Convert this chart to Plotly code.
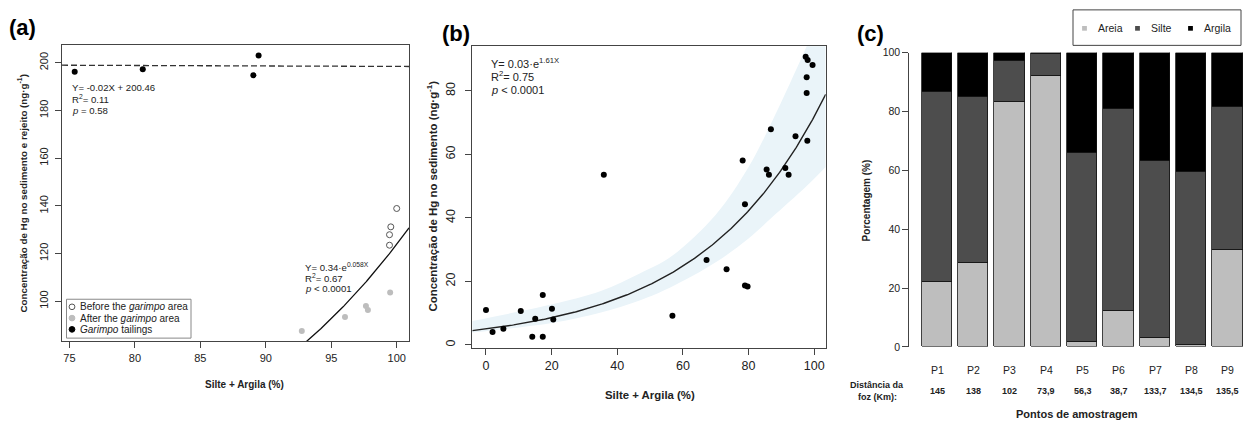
import numpy as np
import plotly.graph_objects as go

# ---------------- DATA ----------------
# Panel (a)
a_before_x = [99.45, 99.45, 99.55, 100.0]
a_before_y = [123.5, 127.9, 131.2, 138.9]
a_after_x = [92.75, 96.05, 97.65, 97.8, 99.5]
a_after_y = [87.5, 93.4, 98.0, 96.3, 103.7]
a_tail_x = [75.4, 80.6, 89.05, 89.45]
a_tail_y = [196.2, 197.3, 194.8, 203.0]
a_lin_slope, a_lin_icpt = -0.02, 200.46
a_exp_a, a_exp_b = 0.375, 0.058
a_xticks = [75, 80, 85, 90, 95, 100]
a_yticks = [100, 120, 140, 160, 180, 200]

# Panel (b)
b_x = [0, 2.0, 5.3, 10.6, 14.1, 15.0, 17.3, 17.3, 20.1, 20.5, 35.9, 56.8, 67.2, 73.3, 78.2,
       78.9, 78.9, 79.7, 85.5, 86.2, 86.8, 91.2, 92.2, 94.3, 97.4, 97.7, 97.7, 97.9, 98.0, 99.5]
b_y = [11.0, 4.1, 5.1, 10.7, 2.6, 8.2, 15.7, 2.6, 11.4, 8.0, 53.6, 9.2, 26.7, 23.8, 58.1,
       44.3, 18.7, 18.4, 55.2, 53.6, 67.9, 55.7, 53.6, 65.7, 90.7, 84.3, 79.3, 64.3, 89.7, 88.1]
b_exp_a, b_exp_b = 5.03, 0.0266
band_x = [-4.2, 10, 20.5, 35, 47, 56, 70, 80, 87, 97.7, 103.5]
band_upper = [7.5, 10.5, 12.9, 17.0, 22.6, 27.5, 41, 56, 70, 94, 108]
band_lower = [3.9, 5.5, 6.95, 10.2, 14.1, 18.0, 26, 33.5, 40, 50, 56]
b_xticks = [0, 20, 40, 60, 80, 100]
b_yticks = [0, 20, 40, 60, 80]

# Panel (c)
c_points = ["P1", "P2", "P3", "P4", "P5", "P6", "P7", "P8", "P9"]
c_areia = [22.3, 28.7, 83.2, 92.1, 1.9, 12.2, 3.1, 0.8, 32.9]
c_silte = [64.4, 56.3, 14.2, 7.7, 64.1, 68.7, 60.3, 58.7, 48.9]
c_argila = [13.3, 15.0, 2.6, 0.2, 34.0, 19.1, 36.6, 40.5, 18.2]
c_dist = ["145", "138", "102", "73,9", "56,3", "38,7", "133,7", "134,5", "135,5"]
c_yticks = [0, 20, 40, 60, 80, 100]

# ---------------- HELPERS ----------------
W, H = 1244, 428
FONT = "Liberation Sans, Arial, sans-serif"
INK = "#222222"
LINE = "#444444"


def px(x):
    return x / W


def py(y):
    return (H - y) / H


fig = go.Figure()

# ---------------- PANEL (a) ----------------
xa = np.linspace(74.43, 100.94, 300)
fig.add_trace(go.Scatter(x=xa, y=a_lin_slope * xa + a_lin_icpt, mode="lines",
                         line=dict(color="#333333", width=1.3, dash="6px,3px"),
                         xaxis="x", yaxis="y", showlegend=False))
fig.add_trace(go.Scatter(x=xa, y=a_exp_a * np.exp(a_exp_b * xa), mode="lines",
                         line=dict(color="#111111", width=1.3),
                         xaxis="x", yaxis="y", showlegend=False))
fig.add_trace(go.Scatter(x=a_before_x, y=a_before_y, mode="markers",
                         marker=dict(size=6, color="white", line=dict(color="#555555", width=1)),
                         xaxis="x", yaxis="y", showlegend=False))
fig.add_trace(go.Scatter(x=a_after_x, y=a_after_y, mode="markers",
                         marker=dict(size=6, color="#bdbdbd", line=dict(width=0)),
                         xaxis="x", yaxis="y", showlegend=False))
fig.add_trace(go.Scatter(x=a_tail_x, y=a_tail_y, mode="markers",
                         marker=dict(size=6, color="black", line=dict(width=0)),
                         xaxis="x", yaxis="y", showlegend=False))

# ---------------- PANEL (b) ----------------
fig.add_trace(go.Scatter(x=band_x, y=band_lower, mode="lines", line=dict(width=0, shape="spline"),
                         xaxis="x2", yaxis="y2", showlegend=False))
fig.add_trace(go.Scatter(x=band_x, y=band_upper, mode="lines", line=dict(width=0, shape="spline"),
                         fill="tonexty", fillcolor="#eaf4f9",
                         xaxis="x2", yaxis="y2", showlegend=False))
xb = np.linspace(-4.17, 103.5, 300)
fig.add_trace(go.Scatter(x=xb, y=b_exp_a * np.exp(b_exp_b * xb), mode="lines",
                         line=dict(color="#222222", width=1.4),
                         xaxis="x2", yaxis="y2", showlegend=False))
fig.add_trace(go.Scatter(x=b_x, y=b_y, mode="markers",
                         marker=dict(size=6, color="black", line=dict(width=0)),
                         xaxis="x2", yaxis="y2", showlegend=False))

# ---------------- PANEL (c) ----------------
idx = list(range(len(c_points)))
for name, vals, col in [("Areia", c_areia, "#bebebe"),
                        ("Silte", c_silte, "#4d4d4d"),
                        ("Argila", c_argila, "#000000")]:
    fig.add_trace(go.Bar(x=idx, y=vals, name=name, width=0.833,
                         marker=dict(color=col, line=dict(color="#111111", width=0.8)),
                         xaxis="x3", yaxis="y3", showlegend=False))

axis_common = dict(showgrid=False, zeroline=False, ticks="outside", ticklen=6,
                   tickcolor=LINE, linecolor=LINE, showline=True, linewidth=1)

fig.update_layout(
    width=W, height=H, margin=dict(l=0, r=0, t=0, b=0),
    plot_bgcolor="white", paper_bgcolor="white",
    font=dict(family=FONT, color=INK),
    barmode="stack", bargap=0,
    xaxis=dict(domain=[px(62), px(409)], range=[74.43, 100.94], tickvals=a_xticks,
               mirror=True, anchor="y", tickfont=dict(family=FONT, color=INK, size=11),
               **axis_common),
    yaxis=dict(domain=[py(345), py(40)], range=[83.2, 207.5], tickvals=a_yticks,
               mirror=True, anchor="x", tickangle=-90, ticklabelstandoff=3,
               tickfont=dict(family=FONT, color=INK, size=11), **axis_common),
    xaxis2=dict(domain=[px(472.3), px(825.7)], range=[-4.17, 103.5], tickvals=b_xticks,
                mirror=True, anchor="y2", tickfont=dict(family=FONT, color=INK, size=12.5),
                **axis_common),
    yaxis2=dict(domain=[py(351.7), py(41.3)], range=[-0.92, 94.07], tickvals=b_yticks,
                mirror=True, anchor="x2", tickangle=-90, ticklabelstandoff=5,
                tickfont=dict(family=FONT, color=INK, size=12.5), **axis_common),
    xaxis3=dict(domain=[px(909.3), px(1243.5)], range=[-0.767, 8.43], showgrid=False,
                zeroline=False, showline=False, showticklabels=False, ticks="", anchor="y3"),
    yaxis3=dict(domain=[py(350.7), py(48)], range=[0, 100], tickvals=c_yticks, anchor="x3",
                tickangle=0, tickfont=dict(family=FONT, color=INK, size=10.5), **axis_common),
)

ann = []
shapes = []


def text(x, y, s, size, bold=False, xanchor="left", angle=0, color=INK):
    if bold:
        s = "<b>" + s + "</b>"
    ann.append(dict(x=px(x), y=py(y), xref="paper", yref="paper", text=s, showarrow=False,
                    xanchor=xanchor, yanchor="middle", textangle=angle,
                    font=dict(family=FONT, size=size, color=color)))


# Panel labels
text(7, 22, "(a)", 22, bold=True, color="black")
text(440, 28, "(b)", 22, bold=True, color="black")
text(855, 28, "(c)", 22, bold=True, color="black")

# Panel (a) texts
text(70, 84, "Y= -0.02X + 200.46", 9.6)
text(70, 96, "R<sup>2</sup>= 0.11", 9.6)
text(70, 108, "<i>p</i> = 0.58", 9.6)
text(302.7, 268.3, "Y= 0.34·e<sup>0.058X</sup>", 9.6)
text(302.7, 279.7, "R<sup>2</sup>= 0.67", 9.6)
text(302.7, 291, "<i>p</i> &lt; 0.0001", 9.6)
text(244, 389, "Silte + Argila (%)", 10, bold=True, xanchor="center")
text(22, 193, "Concentração de Hg no sedimento e rejeito (ng·g<sup>-1</sup>)", 9.8, bold=True,
     xanchor="center", angle=-90)

# Legend (a)
shapes.append(dict(type="rect", xref="paper", yref="paper", x0=px(66.5), x1=px(191),
                   y0=py(341.7), y1=py(301.7), line=dict(color="#888888", width=1),
                   fillcolor="white", layer="above"))
leg_a = [("Before the <i>garimpo</i> area", "white", "#555555"),
         ("After the <i>garimpo</i> area", "#bdbdbd", "#bdbdbd"),
         ("<i>Garimpo</i> tailings", "black", "black")]
for i, (lab, fc, lc) in enumerate(leg_a):
    yy = 309.5 + i * 11.6
    r = 2.9
    shapes.append(dict(type="circle", xref="paper", yref="paper", x0=px(72 - r), x1=px(72 + r),
                       y0=py(yy + r), y1=py(yy - r), fillcolor=fc, line=dict(color=lc, width=1),
                       layer="above"))
    text(78, yy, lab, 10)

# Panel (b) texts
text(489, 58.3, "Y= 0.03·e<sup>1.61X</sup>", 11)
text(489, 72, "R<sup>2</sup>= 0.75", 11)
text(489, 86.7, "<i>p</i> &lt; 0.0001", 11)
text(650, 400, "Silte + Argila (%)", 11.4, bold=True, xanchor="center")
text(432, 196, "Concentração de Hg no sedimento (ng·g<sup>-1</sup>)", 11.4, bold=True,
     xanchor="center", angle=-90)

# Panel (c) texts
for i, (p, d) in enumerate(zip(c_points, c_dist)):
    ann.append(dict(x=i, y=py(374), xref="x3", yref="paper", text=p, showarrow=False,
                    xanchor="center", yanchor="middle", font=dict(family=FONT, size=10.5, color=INK)))
    ann.append(dict(x=i, y=py(396.5), xref="x3", yref="paper", text="<b>" + d + "</b>",
                    showarrow=False, xanchor="center", yanchor="middle",
                    font=dict(family=FONT, size=9, color=INK)))
text(877, 389.5, "Distância da", 9, bold=True, xanchor="center")
text(877, 402.5, "foz (Km):", 9, bold=True, xanchor="center")
text(1077, 420, "Pontos de amostragem", 11, bold=True, xanchor="center")
text(866, 200, "Porcentagem (%)", 10, bold=True, xanchor="center", angle=-90)

# Legend (c)
shapes.append(dict(type="rect", xref="paper", yref="paper", x0=px(1073), x1=px(1241),
                   y0=py(40.5), y1=py(4), line=dict(color="#444444", width=1),
                   fillcolor="white", layer="above"))
for lab, col, mx in [("Areia", "#bebebe", 1084.5), ("Silte", "#4d4d4d", 1137.5),
                     ("Argila", "#000000", 1190.5)]:
    s = 2.4
    shapes.append(dict(type="rect", xref="paper", yref="paper", x0=px(mx - s), x1=px(mx + s),
                       y0=py(23 + s), y1=py(23 - s), fillcolor=col, line=dict(width=0),
                       layer="above"))
    text(mx + 11.5, 23, lab, 10.5)

fig.update_layout(annotations=ann, shapes=shapes)
fig.write_html("out.html", config={"displayModeBar": False},
               post_script="document.body.style.margin='0';document.body.style.overflow='hidden';")
